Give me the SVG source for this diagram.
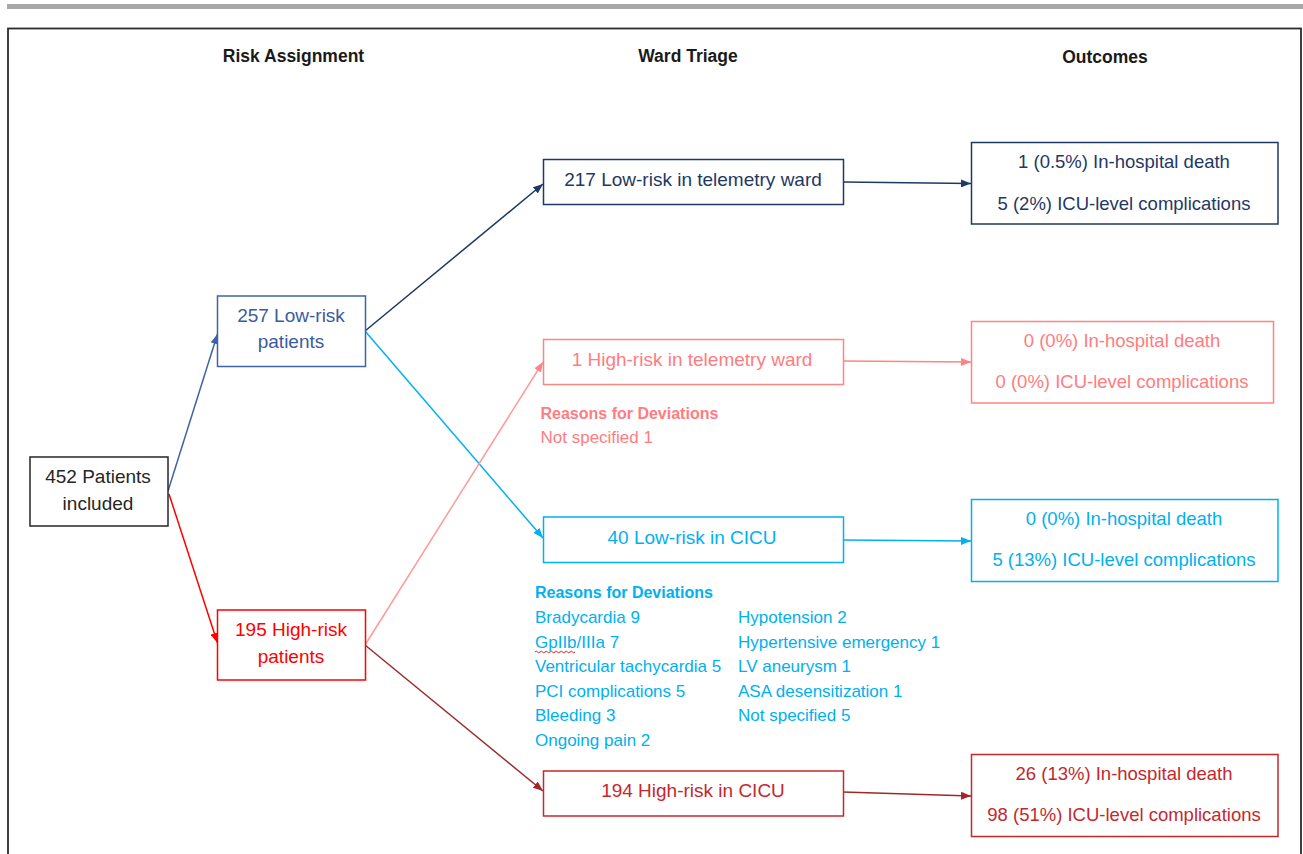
<svg xmlns="http://www.w3.org/2000/svg" width="1303" height="854" viewBox="0 0 1303 854">
<style>
text{font-family:"Liberation Sans",Arial,sans-serif;}
.h{font-size:17.5px;font-weight:bold;fill:#1a1a1a;text-anchor:middle;}
.n{font-size:19px;text-anchor:middle;}
.o{font-size:18.5px;text-anchor:middle;}
.rb{font-size:16px;font-weight:bold;}
.r{font-size:17px;}
.box{fill:#fff;stroke-width:1.5;}
.c{fill:none;stroke-width:1.5;}
</style>
<defs>
<marker id="m-steel" viewBox="0 0 10 8" refX="10" refY="4" markerWidth="10" markerHeight="8" orient="auto" markerUnits="userSpaceOnUse"><path d="M0,0 L10,4 L0,8 z" fill="#3f63a8"/></marker>
<marker id="m-red" viewBox="0 0 10 8" refX="10" refY="4" markerWidth="10" markerHeight="8" orient="auto" markerUnits="userSpaceOnUse"><path d="M0,0 L10,4 L0,8 z" fill="#ff0000"/></marker>
<marker id="m-navy" viewBox="0 0 10 8" refX="10" refY="4" markerWidth="10" markerHeight="8" orient="auto" markerUnits="userSpaceOnUse"><path d="M0,0 L10,4 L0,8 z" fill="#1f3864"/></marker>
<marker id="m-sky" viewBox="0 0 10 8" refX="10" refY="4" markerWidth="10" markerHeight="8" orient="auto" markerUnits="userSpaceOnUse"><path d="M0,0 L10,4 L0,8 z" fill="#00b0f0"/></marker>
<marker id="m-salmon" viewBox="0 0 10 8" refX="10" refY="4" markerWidth="10" markerHeight="8" orient="auto" markerUnits="userSpaceOnUse"><path d="M0,0 L10,4 L0,8 z" fill="#ff8585"/></marker>
<marker id="m-dark" viewBox="0 0 10 8" refX="10" refY="4" markerWidth="10" markerHeight="8" orient="auto" markerUnits="userSpaceOnUse"><path d="M0,0 L10,4 L0,8 z" fill="#a0262a"/></marker>
</defs>
<rect x="0" y="0" width="1303" height="854" fill="#fff"/>
<rect x="7" y="4" width="1296" height="5" fill="#a8a8a8"/>
<rect x="8" y="28.5" width="1293" height="900" fill="none" stroke="#2b2b2b" stroke-width="1.8"/>

<g id="headers">
<text class="h" x="293.5" y="62">Risk Assignment</text>
<text class="h" x="688" y="62">Ward Triage</text>
<text class="h" x="1105" y="63">Outcomes</text>
</g>

<g id="connectors">
<path class="c" d="M168,491 L217.5,334" stroke="#3f63a8" marker-end="url(#m-steel)"/>
<path class="c" d="M169,494 L217.5,643" stroke="#ff0000" marker-end="url(#m-red)"/>
<path class="c" d="M365,331 L543,184" stroke="#1f3864" marker-end="url(#m-navy)"/>
<path class="c" d="M365,331 L543,538" stroke="#00b0f0" marker-end="url(#m-sky)"/>
<path class="c" d="M365,645 L543,362" stroke="#ff9a9a" marker-end="url(#m-salmon)"/>
<path class="c" d="M365,645 L543,791" stroke="#9a2c2c" marker-end="url(#m-dark)"/>
<path class="c" d="M843,182 L971,183.5" stroke="#1f3864" marker-end="url(#m-navy)"/>
<path class="c" d="M843,361 L971,362" stroke="#ff8585" marker-end="url(#m-salmon)"/>
<path class="c" d="M843,540 L971,541" stroke="#00b0f0" marker-end="url(#m-sky)"/>
<path class="c" d="M843,792 L971,796" stroke="#a0262a" marker-end="url(#m-dark)"/>
</g>

<g id="n-all">
<rect class="box" x="30" y="457" width="138" height="69" stroke="#262626"/>
<text class="n" x="98" y="483" fill="#262626">452 Patients</text>
<text class="n" x="98" y="510" fill="#262626">included</text>
</g>

<g id="n-low">
<rect class="box" x="217.5" y="296" width="148" height="70.5" stroke="#3f63a8"/>
<text class="n" x="291" y="322" fill="#3b5ba0">257 Low-risk</text>
<text class="n" x="291" y="348" fill="#3b5ba0">patients</text>
</g>

<g id="n-high">
<rect class="box" x="217.5" y="610" width="148" height="70" stroke="#ff0000"/>
<text class="n" x="291" y="636" fill="#ff0000">195 High-risk</text>
<text class="n" x="291" y="663" fill="#ff0000">patients</text>
</g>

<g id="w-low-tele">
<rect class="box" x="543.5" y="159.5" width="300" height="45" stroke="#1f3864"/>
<text class="n" x="693" y="186" fill="#1f3864">217 Low-risk in telemetry ward</text>
</g>

<g id="w-high-tele">
<rect class="box" x="543.5" y="339.5" width="300" height="45" stroke="#ff8585"/>
<text class="n" x="692" y="366" fill="#ff7c80">1 High-risk in telemetry ward</text>
<text class="rb" x="540.5" y="419" fill="#ff7c80">Reasons for Deviations</text>
<text class="r" x="540.5" y="443" fill="#ff7c80">Not specified 1</text>
</g>

<g id="w-low-cicu">
<rect class="box" x="543.5" y="517" width="300" height="45.5" stroke="#00b0f0"/>
<text class="n" x="692" y="543.5" fill="#00b0f0">40 Low-risk in CICU</text>
<text class="rb" x="535" y="598" fill="#00b0f0">Reasons for Deviations</text>
<text class="r" x="535" y="623" fill="#00b0f0">Bradycardia 9</text>
<text class="r" x="535" y="647.5" fill="#00b0f0">GpIIb/IIIa  7</text>
<path d="M535,652 q1.25,-1.5 2.5,0 t2.5,0 t2.5,0 t2.5,0 t2.5,0 t2.5,0 t2.5,0 t2.5,0 t2.5,0 t2.5,0 t2.5,0 t2.5,0 t2.5,0 t2.5,0 t2.5,0 t2.5,0" fill="none" stroke="#e02020" stroke-width="1"/>
<text class="r" x="535" y="672" fill="#00b0f0">Ventricular tachycardia 5</text>
<text class="r" x="535" y="696.5" fill="#00b0f0">PCI complications  5</text>
<text class="r" x="535" y="721" fill="#00b0f0">Bleeding 3</text>
<text class="r" x="535" y="745.5" fill="#00b0f0">Ongoing pain 2</text>
<text class="r" x="738" y="623" fill="#00b0f0">Hypotension  2</text>
<text class="r" x="738" y="647.5" fill="#00b0f0">Hypertensive emergency 1</text>
<text class="r" x="738" y="672" fill="#00b0f0">LV aneurysm 1</text>
<text class="r" x="738" y="696.5" fill="#00b0f0">ASA desensitization  1</text>
<text class="r" x="738" y="721" fill="#00b0f0">Not specified 5</text>
</g>

<g id="w-high-cicu">
<rect class="box" x="543.5" y="771" width="300" height="45" stroke="#c5282c"/>
<text class="n" x="693" y="797" fill="#c5282c">194 High-risk in CICU</text>
</g>

<g id="o-low-tele">
<rect class="box" x="971.5" y="142.5" width="306.5" height="81.5" stroke="#1f3864"/>
<text class="o" x="1124" y="168" fill="#1f3864">1 (0.5%) In-hospital death</text>
<text class="o" x="1124" y="210" fill="#1f3864">5 (2%) ICU-level complications</text>
</g>

<g id="o-high-tele">
<rect class="box" x="971.5" y="321.5" width="302" height="81.5" stroke="#ff8585"/>
<text class="o" x="1122" y="347" fill="#ff7c80">0 (0%) In-hospital death</text>
<text class="o" x="1122" y="388" fill="#ff7c80">0 (0%) ICU-level complications</text>
</g>

<g id="o-low-cicu">
<rect class="box" x="971.5" y="499.5" width="306.5" height="82" stroke="#00b0f0"/>
<text class="o" x="1124" y="525" fill="#00b0f0">0 (0%) In-hospital death</text>
<text class="o" x="1124" y="566" fill="#00b0f0">5 (13%) ICU-level complications</text>
</g>

<g id="o-high-cicu">
<rect class="box" x="971.5" y="754.5" width="306.5" height="82" stroke="#c5282c"/>
<text class="o" x="1124" y="780" fill="#c5282c">26 (13%) In-hospital death</text>
<text class="o" x="1124" y="821" fill="#c5282c">98 (51%) ICU-level complications</text>
</g>
</svg>
